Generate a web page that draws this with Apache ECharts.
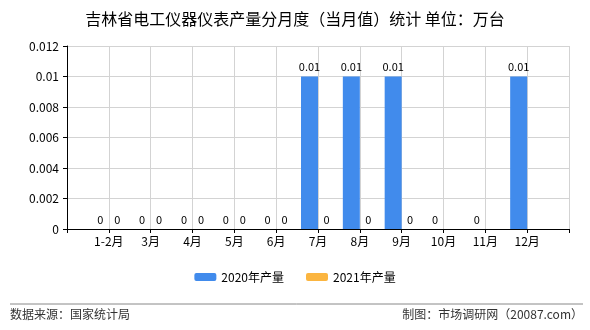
<!DOCTYPE html>
<html><head><meta charset="utf-8">
<script src="https://cdn.jsdelivr.net/npm/echarts@6/dist/echarts.min.js"></script>
<style>html,body{margin:0;padding:0;background:#fff}#c{width:590px;height:330px}</style>
</head><body><div id="c"></div>
<script>
const categories = ['', '1-2月', '3月', '4月', '5月', '6月', '7月', '8月', '9月', '10月', '11月', '12月', ''];
const series2020 = [null, 0, 0, 0, 0, 0, 0.01, 0.01, 0.01, 0, 0, 0.01, null];
const series2021 = [null, 0, 0, 0, 0, 0, 0, 0, 0, null, null, null, null];
const yTicks = [0, 0.002, 0.004, 0.006, 0.008, 0.01, 0.012];

const font = '"Noto Sans CJK SC", "DejaVu Sans", sans-serif';
const chart = echarts.init(document.getElementById('c'), null, {renderer: 'canvas'});
const lbl = {show: true, position: 'top', color: '#000', fontSize: 11, fontFamily: font, distance: 4};
chart.setOption({
  animation: false,
  title: {text: '吉林省电工仪器仪表产量分月度（当月值）统计 单位：万台', left: 'center', top: 6,
    textStyle: {fontSize: 16, fontWeight: 'normal', color: '#000', fontFamily: font}},
  legend: {bottom: 42, left: 'center', itemWidth: 22, itemHeight: 8, itemGap: 22,
    textStyle: {fontSize: 12, color: '#000', fontFamily: font},
    data: ['2020年产量', '2021年产量']},
  grid: {left: 67, right: 21, top: 46, bottom: 101},
  xAxis: {type: 'category', data: categories, boundaryGap: false,
    axisLine: {lineStyle: {color: '#000'}},
    axisTick: {show: true, length: 4, lineStyle: {color: '#000'}},
    axisLabel: {color: '#000', fontSize: 12, fontFamily: font, margin: 6, interval: 0},
    splitLine: {show: true, lineStyle: {color: '#d3d3d3'}}},
  yAxis: {type: 'value', min: yTicks[0], max: yTicks[yTicks.length - 1], interval: 0.002,
    axisLine: {show: true, lineStyle: {color: '#000'}},
    axisTick: {show: true, length: 4, lineStyle: {color: '#000'}},
    axisLabel: {color: '#000', fontSize: 12, fontFamily: font, margin: 8},
    splitLine: {show: true, lineStyle: {color: '#d3d3d3'}}},
  series: [
    {name: '2020年产量', type: 'bar', data: series2020, barWidth: 17, barGap: '0%',
     itemStyle: {color: '#418bec'}, label: lbl},
    {name: '2021年产量', type: 'bar', data: series2021, barWidth: 17, barGap: '0%',
     itemStyle: {color: '#fbb540'}, label: lbl}
  ],
  graphic: [
    {type: 'line', shape: {x1: 10, y1: 304, x2: 583, y2: 304}, style: {stroke: '#888', lineWidth: 1}},
    {type: 'text', left: 10, top: 308, style: {text: '数据来源：国家统计局', fontSize: 12, fill: '#333', fontFamily: font}},
    {type: 'text', right: 7, top: 308, style: {text: '制图：市场调研网（20087.com）', fontSize: 12, fill: '#333', fontFamily: font}}
  ]
});
</script></body></html>
